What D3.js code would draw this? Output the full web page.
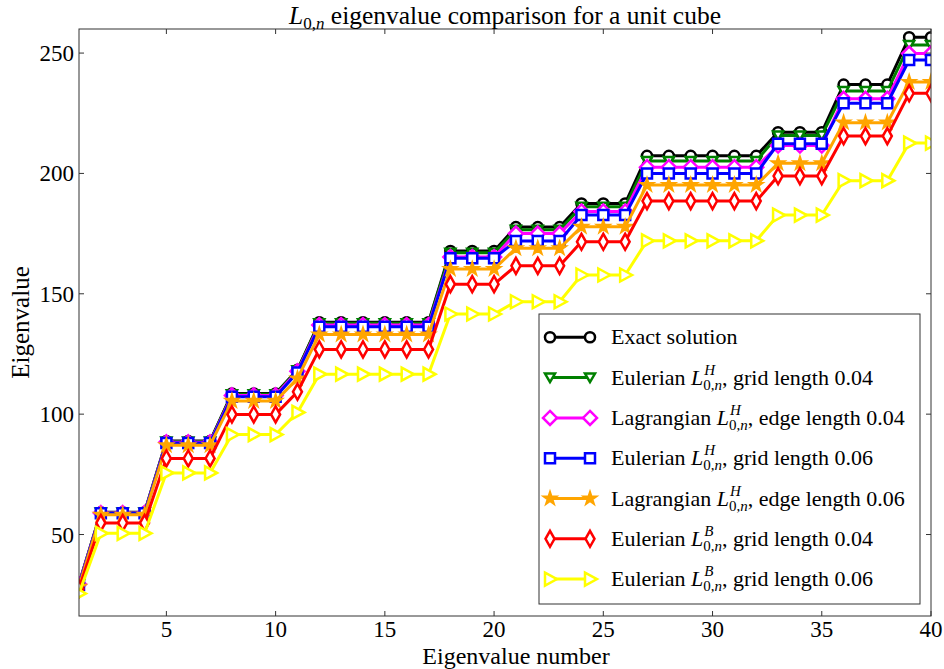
<!DOCTYPE html>
<html><head><meta charset="utf-8">
<script src="https://cdn.jsdelivr.net/npm/d3@7/dist/d3.min.js"></script>
<style>body{margin:0;background:#fff}svg{display:block}text{font-family:"Liberation Serif","DejaVu Serif",serif;fill:#000}</style>
</head><body><svg id="c" width="944" height="669"></svg>
<script>
const xTicks = [5,10,15,20,25,30,35,40];
const yTicks = [50,100,150,200,250];
const exact   = [29.6,59.2,59.2,59.2,88.8,88.8,88.8,108.6,108.6,108.6,118.4,138.2,138.2,138.2,138.2,138.2,138.2,167.8,167.8,167.8,177.7,177.7,177.7,187.5,187.5,187.5,207.3,207.3,207.3,207.3,207.3,207.3,217.1,217.1,217.1,236.9,236.9,236.9,256.6,256.6];
const eulH04  = [29.4,59.1,59.1,59.1,88.6,88.6,88.6,108.3,108.3,108.3,118.2,137.8,137.8,137.8,137.8,137.8,137.8,167.0,167.0,167.0,176.6,176.6,176.6,186.2,186.2,186.2,205.2,205.2,205.2,205.2,205.2,205.2,215.8,215.8,215.8,234.2,234.2,234.2,253.4,253.4];
const lagH04  = [29.3,58.9,58.9,58.9,88.3,88.3,88.3,107.8,107.8,107.8,117.8,137.0,137.0,137.0,137.0,137.0,137.0,165.3,165.3,165.3,175.0,175.0,175.0,184.2,184.2,184.2,202.6,202.6,202.6,202.6,202.6,202.6,211.6,211.6,211.6,231.0,231.0,231.0,249.8,249.8];
const eulH06  = [29.0,58.8,58.8,58.8,88.0,88.0,88.0,107.2,107.2,107.2,117.3,136.3,136.3,136.3,136.3,136.3,136.3,164.8,164.8,164.8,171.9,171.9,171.9,182.7,182.7,182.7,200.0,200.0,200.0,200.0,200.0,200.0,212.3,212.3,212.3,229.2,229.2,229.2,247.1,247.1];
const lagH06  = [28.3,58.2,58.2,58.2,87.1,87.1,87.1,105.5,105.5,105.5,114.8,133.1,133.1,133.1,133.1,133.1,133.1,160.3,160.3,160.3,168.9,168.9,168.9,177.8,177.8,177.8,195.2,195.2,195.2,195.2,195.2,195.2,204.2,204.2,204.2,221.1,221.1,221.1,238.0,238.0];
const eulB04  = [27.5,54.8,54.8,54.8,81.6,81.6,81.6,99.9,99.9,99.9,109.3,126.9,126.9,126.9,126.9,126.9,126.9,154.0,154.0,154.0,161.6,161.6,161.6,171.6,171.6,171.6,188.5,188.5,188.5,188.5,188.5,188.5,198.9,198.9,198.9,215.5,215.5,215.5,233.3,233.3];
const eulB06  = [25.5,50.5,50.5,50.5,75.6,75.6,75.6,91.5,91.5,91.5,100.7,116.6,116.6,116.6,116.6,116.6,116.6,141.6,141.6,141.6,146.7,146.7,146.7,157.8,157.8,157.8,172.0,172.0,172.0,172.0,172.0,172.0,182.7,182.7,182.7,197.0,197.0,197.0,212.6,212.6];
const eigNumbers = [1,2,3,4,5,6,7,8,9,10,11,12,13,14,15,16,17,18,19,20,21,22,23,24,25,26,27,28,29,30,31,32,33,34,35,36,37,38,39,40];

const series = [
  {vals: exact,  color:"#000000", marker:"circle",  pre:"Exact solution"},
  {vals: eulH04, color:"#008000", marker:"tridown", pre:"Eulerian ", sup:"H", post:", grid length 0.04"},
  {vals: lagH04, color:"#ff00ff", marker:"diamond", pre:"Lagrangian ", sup:"H", post:", edge length 0.04"},
  {vals: eulH06, color:"#0000ff", marker:"square",  pre:"Eulerian ", sup:"H", post:", grid length 0.06"},
  {vals: lagH06, color:"#ffa500", marker:"star",    pre:"Lagrangian ", sup:"H", post:", edge length 0.06"},
  {vals: eulB04, color:"#ff0000", marker:"thin",    pre:"Eulerian ", sup:"B", post:", grid length 0.04"},
  {vals: eulB06, color:"#ffff00", marker:"triright",pre:"Eulerian ", sup:"B", post:", grid length 0.06"}
];

const svg = d3.select("#c");
const L=79, R=931, T=29, B=616;
const x = d3.scaleLinear().domain([1,40]).range([L,R]);
const y = d3.scaleLinear().domain([16.15,260]).range([B,T]);

svg.append("defs").append("clipPath").attr("id","clip").append("rect")
  .attr("x",L).attr("y",T).attr("width",R-L).attr("height",B-T);

function markerPath(type){
  switch(type){
    case "circle": return d3.symbol(d3.symbolCircle, 80)();
    case "square": return "M-5,-5L5,-5L5,5L-5,5Z";
    case "tridown": return "M0,4.5L-5,-4L5,-4Z";
    case "diamond": return "M0,-7L7,0L0,7L-7,0Z";
    case "thin": return "M0,-8L4.5,0L0,8L-4.5,0Z";
    case "triright": return "M7,0L-5,-6.5L-5,6.5Z";
    case "star": return d3.symbol(d3.symbolStar, 38)();
  }
}

const plot = svg.append("g").attr("clip-path","url(#clip)");
const line = d3.line().x((d,i)=>x(eigNumbers[i])).y(d=>y(d));
series.forEach(s=>{
  const g = plot.append("g");
  g.append("path").attr("d", line(s.vals)).attr("fill","none").attr("stroke",s.color).attr("stroke-width",3);
  g.selectAll("path.m").data(s.vals).enter().append("path").attr("class","m")
    .attr("transform",(d,i)=>`translate(${x(eigNumbers[i])},${y(d)})`)
    .attr("d", markerPath(s.marker))
    .attr("fill", s.marker==="star" ? s.color : "#fff")
    .attr("stroke", s.color).attr("stroke-width", 2.5);
});

// frame
svg.append("rect").attr("x",L).attr("y",T).attr("width",R-L).attr("height",B-T)
  .attr("fill","none").attr("stroke","#333").attr("stroke-width",1);

// ticks (inside, mirrored)
const tk = 5;
xTicks.forEach(v=>{
  svg.append("line").attr("x1",x(v)).attr("x2",x(v)).attr("y1",B).attr("y2",B-tk).attr("stroke","#333");
  svg.append("line").attr("x1",x(v)).attr("x2",x(v)).attr("y1",T).attr("y2",T+tk).attr("stroke","#333");
  svg.append("text").attr("x",x(v)).attr("y",B+21).attr("text-anchor","middle").attr("font-size",23).text(v);
});
yTicks.forEach(v=>{
  svg.append("line").attr("x1",L).attr("x2",L+tk).attr("y1",y(v)).attr("y2",y(v)).attr("stroke","#333");
  svg.append("line").attr("x1",R).attr("x2",R-tk).attr("y1",y(v)).attr("y2",y(v)).attr("stroke","#333");
  svg.append("text").attr("x",L-5).attr("y",y(v)+8).attr("text-anchor","end").attr("font-size",23).text(v);
});

// axis labels
svg.append("text").attr("x",516).attr("y",664).attr("text-anchor","middle").attr("font-size",24).text("Eigenvalue number");
svg.append("text").attr("transform",`translate(29,${(T+B)/2}) rotate(-90)`).attr("text-anchor","middle").attr("font-size",25).text("Eigenvalue");

function measure(str, size, italic){
  const t = svg.append("text").attr("font-size",size).attr("font-style",italic?"italic":"normal").text(str);
  const w = t.node().getComputedTextLength(); t.remove(); return w;
}

// title
const title = svg.append("text").attr("x",(L+R)/2).attr("y",24).attr("font-size",25.5).attr("text-anchor","middle");
title.append("tspan").attr("font-style","italic").text("L");
title.append("tspan").attr("font-size",17).attr("dy",5).text("0,");
title.append("tspan").attr("font-size",17).attr("font-style","italic").text("n");
title.append("tspan").attr("dy",-5).text(" eigenvalue comparison for a unit cube");

// legend
const lg = svg.append("g");
const LX=539, LY=314, LW=381, LH=290;
lg.append("rect").attr("x",LX).attr("y",LY).attr("width",LW).attr("height",LH).attr("fill","#fff").attr("stroke","#333").attr("stroke-width",1);
series.forEach((s,i)=>{
  const cy = 337.3 + i*40.3;
  lg.append("line").attr("x1",550).attr("x2",590).attr("y1",cy).attr("y2",cy).attr("stroke",s.color).attr("stroke-width",3);
  [550,590].forEach(mx=>{
    lg.append("path").attr("transform",`translate(${mx},${cy})`).attr("d",markerPath(s.marker))
      .attr("fill", s.marker==="star" ? s.color : "#fff").attr("stroke",s.color).attr("stroke-width",2.5);
  });
  const t = lg.append("text").attr("x",611).attr("y",cy+7).attr("font-size",22);
  t.append("tspan").text(s.pre);
  if (s.sup){
    t.append("tspan").attr("font-style","italic").text("L");
    const wsup = measure(s.sup, 15, true);
    t.append("tspan").attr("font-style","italic").attr("font-size",15).attr("dy",-10).attr("dx",1).text(s.sup);
    t.append("tspan").attr("font-size",15).attr("dy",15).attr("dx",-wsup-1).text("0,");
    t.append("tspan").attr("font-size",15).attr("font-style","italic").text("n");
    t.append("tspan").attr("dy",-5).text(s.post);
  }
});
</script></body></html>
